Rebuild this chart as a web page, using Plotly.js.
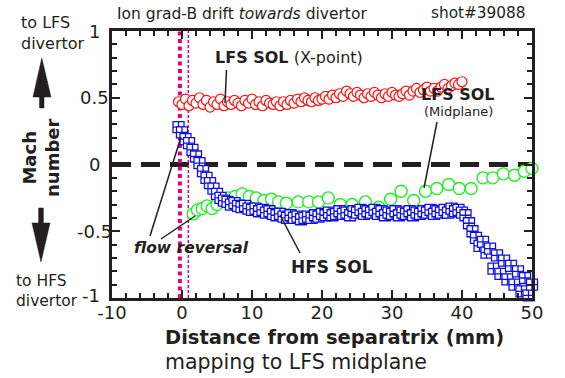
<!DOCTYPE html>
<html><head><meta charset="utf-8">
<script src="https://cdn.plot.ly/plotly-3.0.1.min.js"></script>
<style>html,body{margin:0;padding:0;background:#fff;} #chart{width:565px;height:378px;}</style>
</head><body><div id="chart"></div>
<script>
// ---- tick labels ----
const xTickVals = [-10, 0, 10, 20, 30, 40, 50];
const xTickText = ["-10", "0", "10", "20", "30", "40", "50"];
const yTickVals = [-1, -0.5, 0, 0.5, 1];
const yTickText = ["-1", "-0.5", "0", "0.5", "1"];

// ---- LFS SOL (X-point), red circles ----
const lfsXptX = [-0.5,0,0.5,1,1.5,2,2.5,3,3.5,4,4.5,5,5.5,6,6.5,7,7.5,8,8.5,9,9.5,10,10.5,11,11.5,12,12.5,13,13.5,14,14.5,15,15.5,16,16.5,17,17.5,18,18.5,19,19.5,20,20.5,21,21.5,22,22.5,23,23.5,24,24.5,25,25.5,26,26.5,27,27.5,28,28.5,29,29.5,30,30.5,31,31.5,32,32.5,33,33.5,34,34.5,35,35.5,36,36.5,37,37.5,38,38.5,39,39.5,40];
const lfsXptMach = [0.47,0.45,0.49,0.44,0.48,0.46,0.50,0.45,0.48,0.43,0.47,0.45,0.49,0.44,0.47,0.45,0.48,0.46,0.44,0.48,0.46,0.49,0.45,0.47,0.44,0.48,0.46,0.45,0.47,0.44,0.47,0.45,0.48,0.46,0.49,0.47,0.50,0.48,0.47,0.50,0.48,0.49,0.51,0.49,0.52,0.50,0.53,0.51,0.55,0.53,0.51,0.54,0.52,0.50,0.53,0.51,0.54,0.52,0.50,0.53,0.51,0.54,0.52,0.51,0.53,0.55,0.52,0.55,0.57,0.54,0.56,0.58,0.55,0.57,0.55,0.58,0.60,0.57,0.59,0.61,0.60,0.62];

// ---- LFS SOL (Midplane), green circles ----
const lfsMidX = [1.6,2.2,2.9,3.6,4.3,5.0,5.8,6.6,7.6,8.6,9.6,10.6,11.7,12.8,13.8,14.9,16.6,18.1,19.5,20.9,22.6,24.3,26.2,28.1,29.8,31.3,33.1,34.8,36.4,38.1,39.6,41.3,43.0,44.4,45.9,47.5,48.9,50.0];
const lfsMidMach = [-0.37,-0.34,-0.33,-0.31,-0.33,-0.30,-0.27,-0.25,-0.24,-0.22,-0.24,-0.25,-0.27,-0.26,-0.28,-0.29,-0.28,-0.28,-0.28,-0.25,-0.30,-0.30,-0.28,-0.32,-0.26,-0.20,-0.27,-0.20,-0.18,-0.15,-0.18,-0.18,-0.10,-0.10,-0.07,-0.08,-0.05,-0.03];

// ---- HFS SOL, blue squares ----
const hfsX = [-0.5,0,0.5,1,1.5,2,2.5,3,3.5,4,4.5,5,5.5,6,6.5,7,7.5,8,8.5,9,9.5,10,10.5,11,11.5,12,12.5,13,13.5,14,14.5,15,15.5,16,16.5,17,17.5,18,18.5,19,19.5,20,20.5,21,21.5,22,22.5,23,23.5,24,24.5,25,25.5,26,26.5,27,27.5,28,28.5,29,29.5,30,30.5,31,31.5,32,32.5,33,33.5,34,34.5,35,35.5,36,36.5,37,37.5,38,38.5,39,39.5,40,40.5,41,41.5,42,42.5,43,43.5,44,44.5,45,45.5,46,46.5,47,47.5,48,48.5,49,49.5,50];
const hfsMach = [0.28,0.24,0.19,0.16,0.11,0.06,0.01,-0.05,-0.10,-0.14,-0.18,-0.22,-0.25,-0.27,-0.28,-0.30,-0.29,-0.31,-0.32,-0.31,-0.33,-0.34,-0.33,-0.35,-0.34,-0.36,-0.35,-0.37,-0.38,-0.37,-0.39,-0.40,-0.38,-0.40,-0.39,-0.41,-0.40,-0.39,-0.40,-0.38,-0.39,-0.37,-0.38,-0.36,-0.38,-0.37,-0.35,-0.37,-0.36,-0.38,-0.35,-0.36,-0.34,-0.37,-0.35,-0.36,-0.34,-0.37,-0.35,-0.38,-0.36,-0.37,-0.35,-0.38,-0.36,-0.37,-0.35,-0.38,-0.36,-0.37,-0.35,-0.36,-0.34,-0.37,-0.35,-0.36,-0.34,-0.36,-0.33,-0.35,-0.34,-0.36,-0.38,-0.44,-0.50,-0.55,-0.61,-0.58,-0.66,-0.63,-0.78,-0.68,-0.82,-0.72,-0.86,-0.76,-0.90,-0.80,-0.95,-0.85,-0.98,-0.90];

// separatrix position markers (mm)
const sepLinesX = [-0.3, 0.9];

// ---- geometry helpers (pixel -> paper) ----
const W = 565, H = 378, ML = 112, MR = 33, MT = 31, MB = 80;
const PW = W - ML - MR, PH = H - MT - MB;
const px = v => (v - ML) / PW;
const py = v => (H - MB - v) / PH;
const ink = '#231f20';
const FF = 'DejaVu Sans';

function ann(text, x, y, size, opts) {
  return Object.assign({
    text: text, xref: 'paper', yref: 'paper', x: px(x), y: py(y),
    xanchor: 'center', yanchor: 'middle', showarrow: false,
    font: {family: FF, size: size, color: ink}
  }, opts || {});
}
function seg(x0, y0, x1, y1) {
  return {type: 'line', xref: 'paper', yref: 'paper', x0: px(x0), y0: py(y0), x1: px(x1), y1: py(y1),
          line: {color: ink, width: 1.5}, layer: 'above'};
}
function poly(pts) {
  return {type: 'path', xref: 'paper', yref: 'paper', layer: 'above',
    path: 'M' + pts.map(p => px(p[0]).toFixed(5) + ',' + py(p[1]).toFixed(5)).join(' L') + ' Z',
    fillcolor: ink, line: {color: ink, width: 0.5}};
}

const traces = [
  {x: lfsMidX, y: lfsMidMach, type: 'scatter', mode: 'markers', cliponaxis: false,
   marker: {symbol: 'circle', size: 12, color: 'white', line: {color: '#22ee22', width: 1.4}}},
  {x: hfsX, y: hfsMach, type: 'scatter', mode: 'markers', cliponaxis: false,
   marker: {symbol: 'square-cross', size: 11, color: 'white', line: {color: '#1010e0', width: 1.3}}},
  {x: lfsXptX, y: lfsXptMach, type: 'scatter', mode: 'markers', cliponaxis: false,
   marker: {symbol: 'circle', size: 10, color: 'white', line: {color: '#ff1010', width: 1.2}}}
];

const shapes = [
  {type: 'line', xref: 'x', yref: 'y', x0: -10, x1: 50, y0: 0, y1: 0, layer: 'below',
   line: {color: ink, width: 5, dash: '19px,10px'}},
  {type: 'line', xref: 'x', yref: 'y', x0: sepLinesX[0], x1: sepLinesX[0], y0: -1, y1: 1, layer: 'below',
   line: {color: '#e6007e', width: 4, dash: '4px,3.5px'}},
  {type: 'line', xref: 'x', yref: 'y', x0: sepLinesX[1], x1: sepLinesX[1], y0: -1, y1: 1, layer: 'below',
   line: {color: '#e6007e', width: 1.5, dash: '3px,2px'}},
  seg(226.5, 70, 225, 103),
  seg(437, 122, 424, 188),
  seg(150, 236, 181, 137),
  seg(161, 239, 195, 216),
  seg(280, 215, 300, 253),
  poly([[39.5,108],[39.5,97],[33,97],[41.8,58],[51,97],[44,97],[44,108]]),
  poly([[38.6,208],[38.6,223],[32,223],[41,262],[50,223],[43.4,223],[43.4,208]])
];

const annotations = [
  ann('Ion grad-B drift <i>towards</i> divertor', 115, 14, 15.5, {xanchor: 'left'}),
  ann('shot#39088', 528, 13, 15.3, {xanchor: 'right'}),
  ann('to LFS<br>divertor', 19, 33, 16, {xanchor: 'left', align: 'left'}),
  ann('<b>Mach<br>number</b>', 41, 158, 18, {textangle: -90}),
  ann('to HFS<br>divertor', 14, 291, 15.5, {xanchor: 'left', align: 'left'}),
  ann('<b>LFS SOL</b> (X-point)', 213, 57, 16, {xanchor: 'left'}),
  ann('<b>LFS SOL</b>', 458, 94, 16),
  ann('(Midplane)', 458, 112, 13),
  ann('<b><i>flow reversal</i></b>', 191, 248, 15.5),
  ann('<b>HFS SOL</b>', 332, 267, 17),
  ann('<b>Distance from separatrix (mm)</b>', 163, 337, 19.5, {xanchor: 'left'}),
  ann('mapping to LFS midplane', 163, 362, 20.5, {xanchor: 'left'})
];
// y tick labels, centred left of the axis (lowest one nudged clear of the x labels)
yTickVals.forEach((v, i) => {
  const low = (i === 0);
  annotations.push({text: yTickText[i], xref: 'paper', yref: 'y', x: px(low ? 91 : 94), y: v,
    xanchor: 'center', yanchor: 'middle', showarrow: false, yshift: low ? 3 : 0, borderpad: 0,
    font: {family: FF, size: 18, color: ink}});
});

const axisCommon = {
  ticks: 'inside', ticklen: 8, tickwidth: 2, tickcolor: ink,
  showline: true, linewidth: 3, linecolor: ink, mirror: 'ticks',
  showgrid: false, zeroline: false, fixedrange: true
};

const layout = {
  width: W, height: H,
  margin: {l: ML, r: MR, t: MT, b: MB, pad: 0},
  paper_bgcolor: 'white', plot_bgcolor: 'white', showlegend: false,
  font: {family: FF, color: ink, size: 18},
  xaxis: Object.assign({}, axisCommon, {
    range: [-10, 50], tickmode: 'array', tickvals: xTickVals, ticktext: xTickText,
    tickfont: {family: FF, size: 18, color: ink}, ticklabelstandoff: -4,
    minor: {tickmode: 'linear', tick0: -10, dtick: 2, ticks: 'inside', ticklen: 5, tickwidth: 2, tickcolor: ink, showgrid: false}
  }),
  yaxis: Object.assign({}, axisCommon, {
    range: [-1, 1], tickmode: 'array', tickvals: yTickVals, showticklabels: false,
    minor: {tickmode: 'linear', tick0: -1, dtick: 0.1, ticks: 'inside', ticklen: 5, tickwidth: 2, tickcolor: ink, showgrid: false}
  }),
  shapes: shapes,
  annotations: annotations
};

Plotly.newPlot('chart', traces, layout, {staticPlot: true, displayModeBar: false});
</script>
</body></html>
